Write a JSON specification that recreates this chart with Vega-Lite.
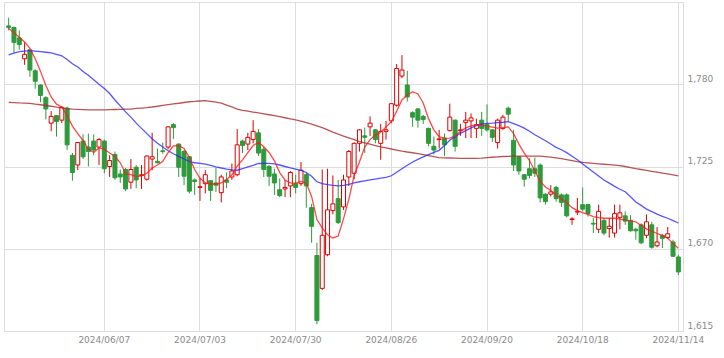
{
"$schema":"https://vega.github.io/schema/vega-lite/v6.json",
"width":679,"height":329,
"autosize":{"type":"none"},
"padding":{"left":4,"top":2,"right":41,"bottom":27},
"background":"white",
"config":{"view":{"stroke":"#dddddd","strokeWidth":1},
"axis":{"labelFont":"DejaVu Sans","labelFontSize":9,"labelColor":"#8a8a8a","ticks":false,"domain":false,"gridColor":"#dddddd","gridWidth":1,"title":null}},
"data":{"values":[
{"t":"2024/05/14","o":1819,"h":1824.5,"l":1816,"c":1818,"m5":1817.5,"m25":1799.6,"m75":1767.9},
{"t":"2024/05/15","o":1818,"h":1818.5,"l":1801,"c":1808,"m5":1814.5,"m25":1800.8,"m75":1767.7},
{"t":"2024/05/16","o":1811,"h":1816,"l":1803,"c":1806.5,"m5":1811.5,"m25":1801.8,"m75":1767.5},
{"t":"2024/05/17","o":1797,"h":1808,"l":1793,"c":1800,"m5":1808.3,"m25":1802.2,"m75":1767.4},
{"t":"2024/05/20","o":1803,"h":1803.5,"l":1785,"c":1789.5,"m5":1804,"m25":1802.5,"m75":1767.2},
{"t":"2024/05/21","o":1789,"h":1790,"l":1777,"c":1782,"m5":1797,"m25":1802.2,"m75":1766.7},
{"t":"2024/05/22","o":1779.5,"h":1780,"l":1768,"c":1772.5,"m5":1788.6,"m25":1801.8,"m75":1766.3},
{"t":"2024/05/23","o":1771,"h":1772,"l":1756.5,"c":1763.5,"m5":1779.2,"m25":1801.4,"m75":1765.8},
{"t":"2024/05/24","o":1754,"h":1762,"l":1748.5,"c":1758.5,"m5":1771.5,"m25":1801,"m75":1765.3},
{"t":"2024/05/27","o":1759,"h":1759.5,"l":1745,"c":1755,"m5":1766.7,"m25":1800,"m75":1764.7},
{"t":"2024/05/28","o":1756,"h":1765.5,"l":1754,"c":1764.5,"m5":1764.8,"m25":1799,"m75":1764.2},
{"t":"2024/05/29","o":1764,"h":1765,"l":1736,"c":1739.5,"m5":1759,"m25":1796.5,"m75":1763.7},
{"t":"2024/05/30","o":1732.5,"h":1734,"l":1715.5,"c":1721,"m5":1752,"m25":1793.7,"m75":1763.3},
{"t":"2024/05/31","o":1726,"h":1741.5,"l":1722.5,"c":1741,"m5":1747,"m25":1791.5,"m75":1763.2},
{"t":"2024/06/03","o":1742,"h":1746.5,"l":1730,"c":1731.5,"m5":1742.4,"m25":1788.5,"m75":1763},
{"t":"2024/06/04","o":1738,"h":1747,"l":1725,"c":1735,"m5":1736.6,"m25":1786,"m75":1762.8},
{"t":"2024/06/05","o":1742,"h":1746.5,"l":1732.5,"c":1736,"m5":1734.4,"m25":1783,"m75":1762.8},
{"t":"2024/06/06","o":1738,"h":1744,"l":1726,"c":1743,"m5":1737.4,"m25":1780,"m75":1762.9},
{"t":"2024/06/07","o":1742,"h":1743,"l":1720.5,"c":1723.5,"m5":1736.7,"m25":1777.2,"m75":1762.9},
{"t":"2024/06/10","o":1725,"h":1732.5,"l":1718,"c":1729,"m5":1734,"m25":1773.8,"m75":1763},
{"t":"2024/06/11","o":1733,"h":1735,"l":1716,"c":1717.5,"m5":1731.7,"m25":1769.5,"m75":1763.1},
{"t":"2024/06/12","o":1720,"h":1723,"l":1714,"c":1718,"m5":1727.5,"m25":1765.5,"m75":1763.2},
{"t":"2024/06/13","o":1723,"h":1724,"l":1708.5,"c":1710,"m5":1720.3,"m25":1761.5,"m75":1763.3},
{"t":"2024/06/14","o":1714.5,"h":1730,"l":1710,"c":1723,"m5":1719.5,"m25":1758,"m75":1763.4},
{"t":"2024/06/17","o":1724.5,"h":1726,"l":1710.5,"c":1716,"m5":1718.3,"m25":1754,"m75":1763.8},
{"t":"2024/06/18","o":1719,"h":1726,"l":1710,"c":1719.5,"m5":1718.8,"m25":1750.5,"m75":1764.1},
{"t":"2024/06/19","o":1716.5,"h":1732.5,"l":1715.5,"c":1732,"m5":1720.5,"m25":1747,"m75":1764.4},
{"t":"2024/06/20","o":1730,"h":1747.5,"l":1722.5,"c":1731.5,"m5":1724,"m25":1743.5,"m75":1764.8},
{"t":"2024/06/21","o":1728.5,"h":1737,"l":1727,"c":1727.5,"m5":1726,"m25":1740.5,"m75":1765.3},
{"t":"2024/06/24","o":1735.5,"h":1741,"l":1733.5,"c":1735,"m5":1728.5,"m25":1738,"m75":1765.9},
{"t":"2024/06/25","o":1738,"h":1752,"l":1736.5,"c":1751.5,"m5":1734.2,"m25":1735.5,"m75":1766.4},
{"t":"2024/06/26","o":1753,"h":1754,"l":1743.5,"c":1751,"m5":1738.8,"m25":1733.5,"m75":1766.9},
{"t":"2024/06/27","o":1740,"h":1740.5,"l":1718,"c":1724.5,"m5":1739,"m25":1731.8,"m75":1767.3},
{"t":"2024/06/28","o":1735,"h":1736,"l":1712.5,"c":1718.5,"m5":1737,"m25":1730,"m75":1767.8},
{"t":"2024/07/01","o":1731.5,"h":1732,"l":1707,"c":1708.5,"m5":1731,"m25":1728.5,"m75":1768.3},
{"t":"2024/07/02","o":1716,"h":1717,"l":1706,"c":1715,"m5":1723,"m25":1727.5,"m75":1768.5},
{"t":"2024/07/03","o":1711,"h":1717.5,"l":1702,"c":1711.5,"m5":1717.1,"m25":1727.1,"m75":1768.8},
{"t":"2024/07/04","o":1713.5,"h":1722.5,"l":1707,"c":1719.5,"m5":1714.1,"m25":1726.6,"m75":1769},
{"t":"2024/07/05","o":1715.5,"h":1716,"l":1702,"c":1709,"m5":1713.3,"m25":1725.8,"m75":1768.5},
{"t":"2024/07/08","o":1714,"h":1724,"l":1708,"c":1712.5,"m5":1713.3,"m25":1724.8,"m75":1768},
{"t":"2024/07/09","o":1707.5,"h":1719.5,"l":1701,"c":1718,"m5":1714,"m25":1724,"m75":1767.4},
{"t":"2024/07/10","o":1716,"h":1721,"l":1710.5,"c":1714.5,"m5":1716.2,"m25":1723.3,"m75":1766.1},
{"t":"2024/07/11","o":1718,"h":1727,"l":1716,"c":1722,"m5":1719.5,"m25":1722.8,"m75":1764.8},
{"t":"2024/07/12","o":1719.5,"h":1750,"l":1718.5,"c":1739.5,"m5":1725.3,"m25":1722.5,"m75":1763.4},
{"t":"2024/07/16","o":1742,"h":1743,"l":1734,"c":1739,"m5":1729.4,"m25":1723.5,"m75":1762.5},
{"t":"2024/07/17","o":1740,"h":1747.5,"l":1736,"c":1744.5,"m5":1734.3,"m25":1724.8,"m75":1762},
{"t":"2024/07/18","o":1743,"h":1756,"l":1740.5,"c":1748.5,"m5":1739,"m25":1725.8,"m75":1761.4},
{"t":"2024/07/19","o":1747.5,"h":1750,"l":1732,"c":1734,"m5":1741.2,"m25":1727,"m75":1760.8},
{"t":"2024/07/22","o":1736.5,"h":1738,"l":1718,"c":1723,"m5":1738.2,"m25":1727.1,"m75":1760.2},
{"t":"2024/07/23","o":1725,"h":1726,"l":1712,"c":1718.5,"m5":1734.4,"m25":1727.1,"m75":1759.6},
{"t":"2024/07/24","o":1720,"h":1723.5,"l":1706,"c":1714,"m5":1728.8,"m25":1726.8,"m75":1759},
{"t":"2024/07/25","o":1709.5,"h":1717,"l":1704.5,"c":1705.5,"m5":1720.9,"m25":1726,"m75":1758.3},
{"t":"2024/07/26","o":1710,"h":1716,"l":1704.5,"c":1711,"m5":1716,"m25":1725,"m75":1757.6},
{"t":"2024/07/29","o":1712,"h":1722,"l":1704.5,"c":1721,"m5":1714.1,"m25":1724.1,"m75":1756.9},
{"t":"2024/07/30","o":1713.5,"h":1719.5,"l":1707,"c":1711,"m5":1713.9,"m25":1723.3,"m75":1756.2},
{"t":"2024/07/31","o":1713.5,"h":1728,"l":1712,"c":1722.5,"m5":1715,"m25":1722.4,"m75":1755.4},
{"t":"2024/08/01","o":1719.5,"h":1721,"l":1697.5,"c":1712,"m5":1713.8,"m25":1721,"m75":1754.3},
{"t":"2024/08/02","o":1697.5,"h":1700,"l":1674,"c":1685,"m5":1705,"m25":1718.5,"m75":1753.3},
{"t":"2024/08/05","o":1665.5,"h":1674,"l":1619.5,"c":1622,"m5":1689.5,"m25":1714.8,"m75":1752.2},
{"t":"2024/08/06","o":1643.5,"h":1723,"l":1642.5,"c":1679,"m5":1684,"m25":1713.5,"m75":1751},
{"t":"2024/08/07","o":1666,"h":1723.5,"l":1665,"c":1696,"m5":1679.3,"m25":1712.9,"m75":1749.5},
{"t":"2024/08/08","o":1695.5,"h":1719,"l":1693,"c":1700,"m5":1677.2,"m25":1712.4,"m75":1748},
{"t":"2024/08/09","o":1703.5,"h":1716,"l":1686.5,"c":1687.5,"m5":1678.5,"m25":1712.1,"m75":1746.6},
{"t":"2024/08/13","o":1698,"h":1719.5,"l":1696,"c":1716,"m5":1690,"m25":1712.4,"m75":1745.3},
{"t":"2024/08/14","o":1718,"h":1736,"l":1712,"c":1735,"m5":1703,"m25":1713.1,"m75":1744.1},
{"t":"2024/08/15","o":1720.5,"h":1741,"l":1716.5,"c":1740.5,"m5":1719,"m25":1714.1,"m75":1742.9},
{"t":"2024/08/16","o":1740.5,"h":1750,"l":1735,"c":1749.5,"m5":1728,"m25":1714.8,"m75":1741.7},
{"t":"2024/08/19","o":1745.5,"h":1751,"l":1734,"c":1744.5,"m5":1738,"m25":1715.4,"m75":1740.8},
{"t":"2024/08/20","o":1751.5,"h":1758.5,"l":1745.5,"c":1754,"m5":1743,"m25":1716,"m75":1739.9},
{"t":"2024/08/21","o":1749.5,"h":1750,"l":1740.5,"c":1743,"m5":1746,"m25":1716.6,"m75":1739},
{"t":"2024/08/22","o":1740.5,"h":1753.5,"l":1729.5,"c":1748.5,"m5":1748,"m25":1717.2,"m75":1738.1},
{"t":"2024/08/23","o":1748.5,"h":1755.5,"l":1743,"c":1749.5,"m5":1751.5,"m25":1717.8,"m75":1737.4},
{"t":"2024/08/26","o":1755.5,"h":1767,"l":1754,"c":1767,"m5":1754.9,"m25":1718.8,"m75":1736.7},
{"t":"2024/08/27","o":1766,"h":1793.5,"l":1765,"c":1790.5,"m5":1762,"m25":1721.2,"m75":1736},
{"t":"2024/08/28","o":1785.5,"h":1799.5,"l":1784,"c":1789.5,"m5":1769.5,"m25":1723.5,"m75":1735.3},
{"t":"2024/08/29","o":1779.5,"h":1789,"l":1768.5,"c":1771.5,"m5":1772.8,"m25":1725.8,"m75":1734.7},
{"t":"2024/08/30","o":1761,"h":1762,"l":1751.5,"c":1758,"m5":1775,"m25":1728,"m75":1734.2},
{"t":"2024/09/02","o":1763.5,"h":1764,"l":1751,"c":1756,"m5":1773.5,"m25":1729.8,"m75":1733.6},
{"t":"2024/09/03","o":1758.5,"h":1759.5,"l":1753.5,"c":1756.5,"m5":1767.5,"m25":1731.4,"m75":1733},
{"t":"2024/09/04","o":1750.5,"h":1751,"l":1738.5,"c":1740.5,"m5":1757,"m25":1733,"m75":1732.3},
{"t":"2024/09/05","o":1738.5,"h":1745,"l":1733,"c":1736,"m5":1749.5,"m25":1734.4,"m75":1731.6},
{"t":"2024/09/06","o":1743,"h":1749.5,"l":1737,"c":1743.5,"m5":1745,"m25":1735.8,"m75":1731},
{"t":"2024/09/09","o":1744,"h":1747,"l":1732,"c":1739.5,"m5":1743.8,"m25":1739,"m75":1730.8},
{"t":"2024/09/10","o":1749,"h":1767,"l":1748.5,"c":1758,"m5":1744,"m25":1742.6,"m75":1730.7},
{"t":"2024/09/11","o":1756,"h":1756.5,"l":1735,"c":1738.5,"m5":1745.5,"m25":1745,"m75":1730.6},
{"t":"2024/09/12","o":1749,"h":1753.5,"l":1745.5,"c":1749.5,"m5":1748.5,"m25":1747.2,"m75":1730.5},
{"t":"2024/09/13","o":1754.5,"h":1761.5,"l":1744,"c":1756,"m5":1750.8,"m25":1749,"m75":1730.5},
{"t":"2024/09/17","o":1755.5,"h":1760.5,"l":1744,"c":1757.5,"m5":1752.2,"m25":1750.8,"m75":1730.5},
{"t":"2024/09/18","o":1750.5,"h":1757,"l":1744,"c":1753,"m5":1753,"m25":1752.3,"m75":1730.5},
{"t":"2024/09/19","o":1756,"h":1761.5,"l":1745.5,"c":1750.5,"m5":1752.5,"m25":1753.4,"m75":1730.6},
{"t":"2024/09/20","o":1753,"h":1766.5,"l":1748.5,"c":1749.5,"m5":1752,"m25":1753.8,"m75":1730.9},
{"t":"2024/09/24","o":1749.5,"h":1750,"l":1741.5,"c":1744.5,"m5":1751.3,"m25":1754,"m75":1731.2},
{"t":"2024/09/25","o":1741,"h":1757,"l":1737,"c":1756,"m5":1750.6,"m25":1754.3,"m75":1731.5},
{"t":"2024/09/26","o":1750.5,"h":1759.5,"l":1749.5,"c":1758,"m5":1751,"m25":1754.6,"m75":1731.7},
{"t":"2024/09/27","o":1764,"h":1765,"l":1755,"c":1760,"m5":1751.5,"m25":1755,"m75":1731.8},
{"t":"2024/09/30","o":1742.5,"h":1749.5,"l":1722,"c":1726,"m5":1747,"m25":1753.7,"m75":1731.9},
{"t":"2024/10/01","o":1731.5,"h":1732,"l":1719.5,"c":1722,"m5":1740,"m25":1752.3,"m75":1732},
{"t":"2024/10/02","o":1719.5,"h":1720,"l":1711.5,"c":1716.5,"m5":1734,"m25":1750.7,"m75":1732},
{"t":"2024/10/03","o":1723.5,"h":1730.5,"l":1717,"c":1719,"m5":1729,"m25":1748.6,"m75":1732},
{"t":"2024/10/04","o":1723.5,"h":1731,"l":1718,"c":1720.5,"m5":1722,"m25":1746.2,"m75":1732},
{"t":"2024/10/07","o":1726,"h":1727,"l":1701,"c":1704,"m5":1715,"m25":1744.2,"m75":1732},
{"t":"2024/10/08","o":1706.5,"h":1707,"l":1699.5,"c":1701.5,"m5":1711.3,"m25":1742.2,"m75":1731.6},
{"t":"2024/10/09","o":1706.5,"h":1712.5,"l":1705,"c":1708,"m5":1709,"m25":1740,"m75":1731.2},
{"t":"2024/10/10","o":1711,"h":1712,"l":1701.5,"c":1703.5,"m5":1706,"m25":1737.8,"m75":1730.8},
{"t":"2024/10/11","o":1706,"h":1707,"l":1698,"c":1701,"m5":1703.2,"m25":1736.2,"m75":1730.3},
{"t":"2024/10/15","o":1706,"h":1707,"l":1691,"c":1692,"m5":1700.7,"m25":1734.3,"m75":1729.6},
{"t":"2024/10/16","o":1689.5,"h":1691,"l":1686,"c":1690,"m5":1697.5,"m25":1731.9,"m75":1728.9},
{"t":"2024/10/17","o":1694.5,"h":1704,"l":1692.5,"c":1695,"m5":1695.5,"m25":1729.5,"m75":1728.2},
{"t":"2024/10/18","o":1699.5,"h":1711,"l":1695,"c":1696.5,"m5":1694.2,"m25":1726.7,"m75":1727.7},
{"t":"2024/10/21","o":1699.5,"h":1700,"l":1691.5,"c":1693.5,"m5":1693,"m25":1724,"m75":1727.4},
{"t":"2024/10/22","o":1687,"h":1690.5,"l":1680.5,"c":1686.5,"m5":1691.5,"m25":1721.3,"m75":1727.1},
{"t":"2024/10/23","o":1683,"h":1699.5,"l":1680.5,"c":1695,"m5":1690.8,"m25":1718.6,"m75":1726.8},
{"t":"2024/10/24","o":1689,"h":1690.5,"l":1679,"c":1680.5,"m5":1690.4,"m25":1716,"m75":1726.5},
{"t":"2024/10/25","o":1683.5,"h":1690.5,"l":1677.5,"c":1685,"m5":1690.4,"m25":1713.9,"m75":1726.2},
{"t":"2024/10/28","o":1680.5,"h":1699.5,"l":1677.5,"c":1693.5,"m5":1690.4,"m25":1711.7,"m75":1725.9},
{"t":"2024/10/29","o":1691,"h":1699.5,"l":1683,"c":1694,"m5":1689.8,"m25":1709.8,"m75":1725.6},
{"t":"2024/10/30","o":1692,"h":1695,"l":1686,"c":1688.5,"m5":1689.2,"m25":1708.1,"m75":1725},
{"t":"2024/10/31","o":1689,"h":1692.5,"l":1681.5,"c":1682,"m5":1688.6,"m25":1704.8,"m75":1724.3},
{"t":"2024/11/01","o":1683,"h":1684,"l":1676,"c":1682,"m5":1688,"m25":1701.3,"m75":1723.6},
{"t":"2024/11/05","o":1686,"h":1687,"l":1673,"c":1674,"m5":1685.5,"m25":1699,"m75":1723},
{"t":"2024/11/06","o":1679,"h":1693,"l":1677,"c":1688,"m5":1683.3,"m25":1696.5,"m75":1722.4},
{"t":"2024/11/07","o":1686,"h":1688,"l":1670,"c":1671,"m5":1681.7,"m25":1694.8,"m75":1721.8},
{"t":"2024/11/08","o":1672,"h":1684.5,"l":1671,"c":1674.5,"m5":1680.2,"m25":1693.2,"m75":1721.2},
{"t":"2024/11/11","o":1679,"h":1680,"l":1670.5,"c":1677,"m5":1678.8,"m25":1691.7,"m75":1720.6},
{"t":"2024/11/12","o":1677.5,"h":1684.5,"l":1676.5,"c":1680,"m5":1677,"m25":1690.4,"m75":1720},
{"t":"2024/11/13","o":1674.5,"h":1676,"l":1664.5,"c":1665,"m5":1673.6,"m25":1688.8,"m75":1719.4},
{"t":"2024/11/14","o":1664.5,"h":1666,"l":1652.5,"c":1654.5,"m5":1670.3,"m25":1687.2,"m75":1718.7}
]},
"encoding":{"x":{"field":"t","type":"ordinal","scale":{"paddingInner":0,"paddingOuter":0.375},
"axis":{"values":["2024/06/07","2024/07/03","2024/07/30","2024/08/26","2024/09/20","2024/10/18","2024/11/14"],"labelAngle":0,"grid":true,"bandPosition":0.5,"labelPadding":4,"labelBaseline":"top","labelFlush":false}}},
"layer":[
{"mark":{"type":"rule","strokeWidth":1},
"encoding":{"y":{"field":"l","type":"quantitative","scale":{"domain":[1615,1835],"nice":false,"zero":false},
"axis":{"orient":"right","values":[1615,1670,1725,1780],"format":",d","labelPadding":4,"labelAlign":"left","labelBaseline":"middle","labelOffset":-6}},
"y2":{"field":"h"},
"color":{"condition":{"test":"datum.c >= datum.o","value":"#dd0000"},"value":"#2e9a3c"}}},
{"mark":{"type":"bar","width":4,"strokeWidth":1},
"encoding":{"y":{"field":"o","type":"quantitative"},"y2":{"field":"c"},
"fill":{"condition":{"test":"datum.c >= datum.o","value":"#ffffff"},"value":"#2e9a3c"},
"stroke":{"condition":{"test":"datum.c >= datum.o","value":"#dd0000"},"value":"#2e9a3c"}}},
{"mark":{"type":"line","color":"#a52a2a","strokeWidth":1.3,"opacity":0.8},"encoding":{"y":{"field":"m75","type":"quantitative"}}},
{"mark":{"type":"line","color":"#2b2bff","strokeWidth":1.3,"opacity":0.8},"encoding":{"y":{"field":"m25","type":"quantitative"}}},
{"mark":{"type":"line","color":"#ff1a1a","strokeWidth":1.3,"opacity":0.8},"encoding":{"y":{"field":"m5","type":"quantitative"}}}
]
}
